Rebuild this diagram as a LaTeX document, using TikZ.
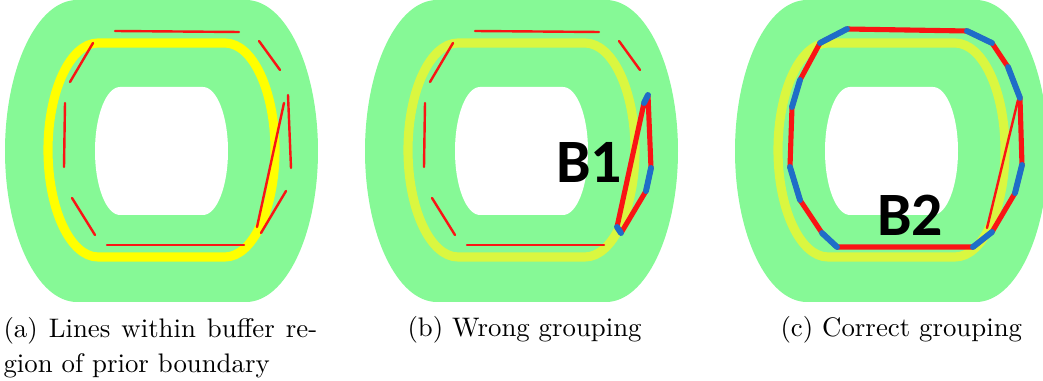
\documentclass[tikz,border=0pt]{standalone}
\usepackage{fontspec}
\usepackage{xcolor}
\usepackage{tikz}
\newfontfamily\tagfont{Carlito}
\definecolor{zonegreen}{RGB}{134,249,150}
\definecolor{priorold}{RGB}{255,255,0}
\definecolor{priorfade}{RGB}{218,247,64}
\definecolor{segred}{RGB}{250,20,20}
\definecolor{linkblue}{RGB}{30,110,200}

\begin{document}
\begin{tikzpicture}[x=0.373pt, y=-0.373pt, font=\fontsize{10}{13}\selectfont,
  zone/.style={fill=zonegreen}, hole/.style={fill=white},
  prior/.style={line width=3.4pt}, seg/.style={draw=segred, line width=0.9pt, line cap=round},
  grp/.style={draw=segred, line width=1.9pt, line join=round}, link/.style={draw=linkblue, line width=2.2pt, line cap=round},
  tag/.style={font=\tagfont\bfseries\fontsize{23}{23}\selectfont, inner sep=0pt},
  subcap/.style={inner sep=0pt}]
\useasboundingbox (0,0) rectangle (1043,381);
% buffer region, hole and prior boundary of each panel
\foreach \ox/\pc in {0/priorold, 360/priorfade, 730/priorfade} {
  \begin{scope}[shift={(\ox,0)}]
    \path[zone] (77,0) -- (246,0) arc(-90:90:72 and 151) -- (77,302) arc(90:270:72 and 151) -- cycle;
    \path[hole] (120,87) -- (203,87) arc(-90:90:25 and 64) -- (120,215) arc(90:270:25 and 64) -- cycle;
    \draw[prior, \pc] (98,43) -- (225,43) arc(-90:90:50 and 107) -- (98,257) arc(90:270:50 and 107) -- cycle;
  \end{scope}
}
% (a) all lines
\draw[seg] (115,31) -- (239,32);
\draw[seg] (93,43) -- (70,82);
\draw[seg] (65,103) -- (64,167);
\draw[seg] (72,198) -- (95,235);
\draw[seg] (107,245) -- (244,245);
\draw[seg] (259,41) -- (280,70);
\draw[seg] (288,95) -- (291,168);
\draw[seg] (284,103) -- (257,227);
\draw[seg] (286,191) -- (261,233);
% (b) wrong group B1
\begin{scope}[shift={(360,0)}]
  \draw[seg] (115,31) -- (239,32);
  \draw[seg] (93,43) -- (70,82);
  \draw[seg] (65,103) -- (64,167);
  \draw[seg] (72,198) -- (95,235);
  \draw[seg] (107,245) -- (244,245);
  \draw[seg] (259,41) -- (280,70);
  \draw[grp] (284,103) -- (288,95) -- (291,168) -- (286,191) -- (261,233) -- (257,227) -- cycle;
  \draw[link] (284,103) -- (288,95);
  \draw[link] (291,168) -- (286,191);
  \draw[link] (261,233) -- (257,227);
\end{scope}
\node[tag] (b1) at (589,162) {B1};
% (c) correct group B2
\begin{scope}[shift={(730,0)}]
  \draw[seg] (288,100) -- (257,228);
  \draw[grp] (117,29) -- (237,31) -- (262,43) -- (278,67) -- (290,98) -- (292,165) -- (285,193) -- (262,232)
    -- (243,247) -- (107,247) -- (92,233) -- (70,200) -- (60,167) -- (62,107) -- (70,80) -- (90,43) -- cycle;
  \draw[link] (237,31) -- (262,43);
  \draw[link] (278,67) -- (290,98);
  \draw[link] (292,165) -- (285,193);
  \draw[link] (262,232) -- (243,247);
  \draw[link] (107,247) -- (92,233);
  \draw[link] (70,200) -- (60,167);
  \draw[link] (62,107) -- (70,80);
  \draw[link] (90,43) -- (117,29);
\end{scope}
\node[tag] (b2) at (910,215) {B2};
% captions
\node[subcap, anchor=north west, text width=117pt, align=justify] (capa) at (3,317)
  {(a) Lines within buffer re-\linebreak gion of prior boundary};
\node[subcap, anchor=base west] (capb) at (407,337) {(b) Wrong grouping};
\node[subcap, anchor=base west] (capc) at (780,337) {(c) Correct grouping};
\end{tikzpicture}
\end{document}
